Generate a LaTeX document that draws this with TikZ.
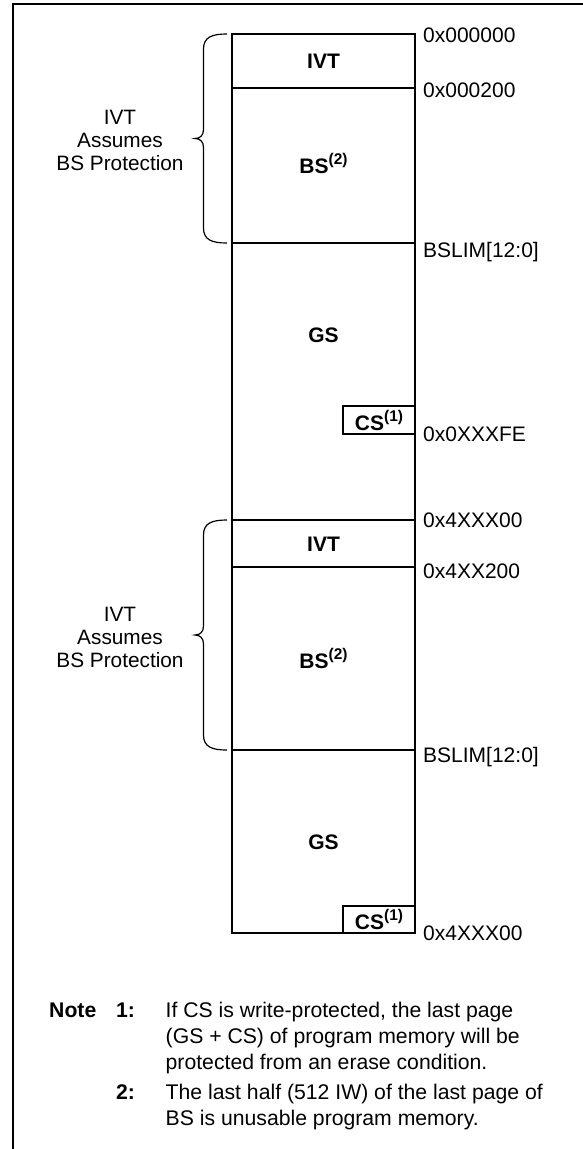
\documentclass[tikz,border=0pt]{standalone}
\usepackage{fontspec}
\setmainfont{Liberation Sans}
\newcommand{\drawbrace}[2]{%
  \pgfmathsetmacro\bm{(#1+#2)/2}%
  \draw[brc] (227,#1) .. controls (212,#1) and (203.5,#1+3) .. (203.5,#1+15)
    -- (203.5,\bm-9) .. controls (203.5,\bm-3) and (200,\bm) .. (195,\bm)
    .. controls (200,\bm) and (203.5,\bm+3) .. (203.5,\bm+9)
    -- (203.5,#2-15) .. controls (203.5,#2-3) and (212,#2) .. (227,#2);}
\newcommand{\supn}[1]{\raisebox{0.42em}{\fontsize{15.5}{15.5}\selectfont\bfseries (#1)}}
\begin{document}
\begin{tikzpicture}[x=1pt,y=-1pt,
  mem/.style={line width=1.9pt},
  memthin/.style={line width=1.1pt},
  frame/.style={line width=2.6pt},
  brc/.style={line width=1.2pt},
  addr/.style={font=\fontsize{21}{24}\selectfont, anchor=base west, inner sep=0pt},
  seg/.style={font=\bfseries\fontsize{21}{24}\selectfont, anchor=base, inner sep=0pt},
  side/.style={font=\fontsize{20.8}{23}\selectfont, align=center, inner sep=0pt},
  note/.style={font=\fontsize{21.2}{26}\selectfont, anchor=base west, inner sep=0pt},
  notek/.style={font=\bfseries\fontsize{21.2}{26}\selectfont, anchor=base west, inner sep=0pt},
]
\useasboundingbox (0,0) rectangle (583,1149);
% frame
\draw[frame] (13,1149) -- (13,4) -- (583,4);
% memory box
\coordinate (boxTL) at (232,34);
\coordinate (boxBR) at (415,933);
\draw[mem] (boxTL) rectangle (boxBR);
\draw[mem] (232,88) -- (415,88);
\draw[mem] (232,243) -- (415,243);
\draw[mem] (232,520) -- (415,520);
\draw[memthin] (232,567) -- (415,567);
\draw[mem] (232,750) -- (415,750);
\draw[mem] (343,406) rectangle (415,434);
\draw[mem] (343,906) rectangle (415,933);
% braces
\drawbrace{34}{243}
\drawbrace{520}{750}
% segment labels
\node[seg] (ivt1) at (323.5,68.5) {IVT};
\node[seg] (bs1) at (323.5,173) {BS\supn{2}};
\node[seg] (gs1) at (323.5,342) {GS};
\node[seg] (cs1) at (379,430) {CS\supn{1}};
\node[seg] (ivt2) at (323.5,551) {IVT};
\node[seg] (bs2) at (323.5,668) {BS\supn{2}};
\node[seg] (gs2) at (323.5,849) {GS};
\node[seg] (cs2) at (379,929) {CS\supn{1}};
% side labels
\node[side] (prot1) at (120,140.5) {IVT\\Assumes\\BS Protection};
\node[side] (prot2) at (120,637) {IVT\\Assumes\\BS Protection};
% addresses
\node[addr] (a1) at (423,42) {0x000000};
\node[addr] (a2) at (423,97) {0x000200};
\node[addr] (a3) at (423,257) {BSLIM[12:0]};
\node[addr] (a4) at (423,441) {0x0XXXFE};
\node[addr] (a5) at (423,527) {0x4XXX00};
\node[addr] (a6) at (423,578) {0x4XX200};
\node[addr] (a7) at (423,762) {BSLIM[12:0]};
\node[addr] (a8) at (423,940) {0x4XXX00};
% notes
\node[notek] (nk) at (49,1017) {Note};
\node[notek] (n1k) at (116,1017) {1:};
\node[note] (n1a) at (165.5,1017) {If CS is write-protected, the last page};
\node[note] (n1b) at (165.5,1043) {(GS + CS) of program memory will be};
\node[note] (n1c) at (165.5,1069) {protected from an erase condition.};
\node[notek] (n2k) at (116,1099) {2:};
\node[note] (n2a) at (165.5,1099) {The last half (512 IW) of the last page of};
\node[note] (n2b) at (165.5,1125) {BS is unusable program memory.};
\end{tikzpicture}
\end{document}
